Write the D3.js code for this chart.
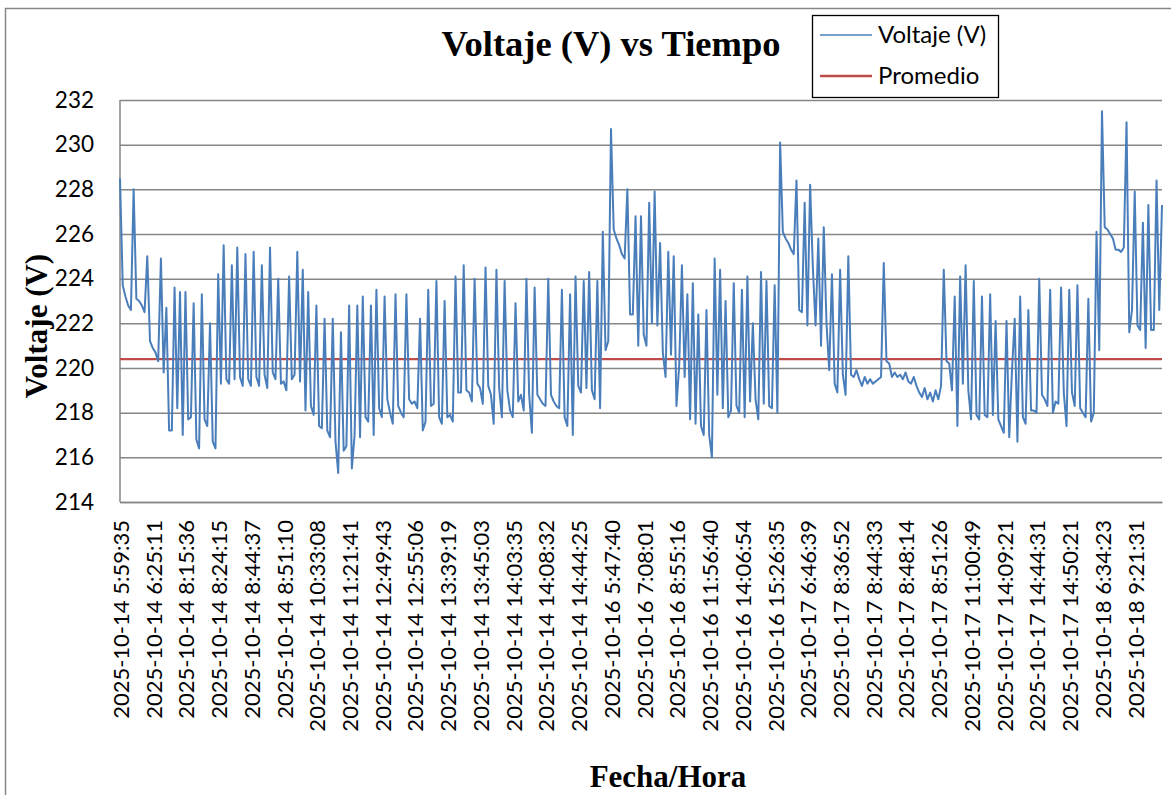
<!DOCTYPE html>
<html>
<head>
<meta charset="utf-8">
<script src="https://cdn.jsdelivr.net/npm/d3@7"></script>
<style>
  body { margin: 0; background: #fff; }
  svg { display: block; }
</style>
</head>
<body>
<div id="chart"></div>
<script>
// category labels shown on the x axis (one every 12 readings)
var fechas = [
  "2025-10-14 5:59:35", "2025-10-14 6:25:11", "2025-10-14 8:15:36", "2025-10-14 8:24:15",
  "2025-10-14 8:44:37", "2025-10-14 8:51:10", "2025-10-14 10:33:08", "2025-10-14 11:21:41",
  "2025-10-14 12:49:43", "2025-10-14 12:55:06", "2025-10-14 13:39:19", "2025-10-14 13:45:03",
  "2025-10-14 14:03:35", "2025-10-14 14:08:32", "2025-10-14 14:44:25", "2025-10-16 5:47:40",
  "2025-10-16 7:08:01", "2025-10-16 8:55:16", "2025-10-16 11:56:40", "2025-10-16 14:06:54",
  "2025-10-16 15:26:35", "2025-10-17 6:46:39", "2025-10-17 8:36:52", "2025-10-17 8:44:33",
  "2025-10-17 8:48:14", "2025-10-17 8:51:26", "2025-10-17 11:00:49", "2025-10-17 14:09:21",
  "2025-10-17 14:44:31", "2025-10-17 14:50:21", "2025-10-18 6:34:23", "2025-10-18 9:21:31"
]
var pasoEtiqueta = 12

// voltage readings (V)
var voltaje = [
  228.5,223.7,223.2,222.8,222.6,228.0,223.1,223.0,222.8,222.5,225.0,221.2,
  220.9,220.7,220.3,224.9,219.8,222.7,217.2,217.2,223.6,218.2,223.4,217.0,
  223.4,217.7,217.8,222.9,216.8,216.4,223.3,217.7,217.4,222.0,216.7,216.4,
  224.2,219.3,225.5,219.5,219.3,224.6,219.5,225.4,219.6,219.2,225.1,219.5,
  219.2,225.2,219.6,219.2,224.6,219.7,219.1,225.4,219.8,219.5,224.0,219.3,
  219.4,219.0,224.1,219.5,219.7,225.2,219.4,224.4,218.1,223.4,218.3,217.9,
  222.8,217.4,217.3,222.2,217.2,216.9,222.2,216.7,215.3,221.6,216.3,216.5,
  222.8,215.5,217.0,222.8,216.9,223.2,217.8,217.6,222.8,217.0,223.5,218.2,
  217.8,223.2,218.6,218.0,217.5,223.3,218.3,218.0,217.8,223.3,218.6,218.4,
  218.5,218.2,222.2,217.2,217.6,223.5,218.3,218.4,223.9,217.8,217.5,223.0,
  217.8,217.9,217.6,224.1,218.9,218.9,224.6,219.0,218.9,218.5,224.0,219.3,
  219.1,218.4,224.5,219.2,218.8,217.5,224.4,219.1,217.8,223.9,219.0,218.1,
  217.8,222.9,218.5,218.8,218.1,224.0,218.8,217.1,223.6,218.8,218.6,218.4,
  218.3,224.0,218.8,218.5,218.3,218.2,223.5,217.8,217.4,223.3,217.0,224.1,
  219.2,218.9,223.9,219.1,224.3,219.0,218.6,223.9,218.2,226.1,220.8,221.2,
  230.7,226.2,225.8,225.5,225.1,224.9,228.0,222.4,222.4,226.8,221.0,226.8,
  221.5,221.0,227.4,222.0,227.9,221.9,225.6,220.7,219.6,225.2,220.6,225.0,
  218.3,220.1,224.6,219.6,223.3,217.7,223.8,217.5,222.4,217.4,217.0,222.6,
  217.0,216.0,224.9,218.8,224.4,218.2,223.0,217.8,218.1,223.8,218.3,218.0,
  223.5,217.8,224.1,218.5,222.0,218.6,217.7,224.3,218.4,223.9,218.3,218.2,
  223.7,218.0,230.1,226.1,225.8,225.6,225.3,225.1,228.4,222.6,222.5,227.4,
  221.9,228.2,224.5,221.9,225.8,221.0,226.3,222.0,219.9,224.2,219.3,218.9,
  224.4,219.7,218.8,225.0,219.7,219.6,219.9,219.5,219.2,219.6,219.3,219.5,
  219.3,219.4,219.5,219.6,224.7,220.3,220.2,219.6,219.8,219.6,219.7,219.5,
  219.8,219.4,219.3,219.6,219.2,218.9,218.7,219.1,218.6,218.9,218.5,219.0,
  218.6,219.2,224.4,220.3,220.2,219.0,223.2,217.4,224.1,219.3,224.6,219.0,
  217.7,223.9,217.9,217.7,223.2,217.9,217.8,223.3,217.9,222.1,217.7,217.4,
  217.1,222.1,216.9,219.9,222.2,216.7,223.2,217.8,217.5,222.6,218.1,218.1,
  218.0,224.0,218.8,218.6,218.3,223.5,218.0,218.5,218.4,223.6,218.9,217.4,
  223.5,218.9,218.3,223.7,218.2,218.0,217.8,223.1,217.6,218.0,226.1,220.8,
  231.5,226.3,226.2,226.0,225.8,225.3,225.3,225.2,225.4,231.0,221.6,222.6,
  227.9,221.9,221.7,226.5,220.9,227.3,221.7,221.7,228.4,222.6,227.3
]

var promedio = 220.4
var yTicks = [214, 216, 218, 220, 222, 224, 226, 228, 230, 232]

var width = 1171, height = 795
var margin = { top: 100, left: 120, right: 9, bottom: 293 }
var plotW = width - margin.left - margin.right,
    plotH = height - margin.top - margin.bottom

var azul = "#4a7ebb", rojo = "#be4b48", gris = "#868686"
var sans = "Lato, 'Open Sans', sans-serif",
    serif = "'Liberation Serif', 'Times New Roman', serif"

var svg = d3.select("#chart")
    .append("svg")
    .attr("width", width)
    .attr("height", height)

// chart border
svg.append("rect")
    .attr("x", 5.5).attr("y", 8.5)
    .attr("width", 1200).attr("height", 800)
    .attr("fill", "#fff")
    .attr("stroke", gris)
    .attr("stroke-width", 1.5)

var g = svg.append("g")
    .attr("transform", "translate(" + margin.left + "," + margin.top + ")")

var x = d3.scaleLinear()
    .domain([0, voltaje.length - 1])
    .range([0, plotW])

var y = d3.scaleLinear()
    .domain([214, 232])
    .range([plotH, 0])

// gridlines + y labels
var yAxis = g.append("g")
    .call(d3.axisLeft(y).tickValues(yTicks).tickSize(-plotW).tickPadding(26).tickFormat(d3.format("d")))
yAxis.select(".domain").remove()
yAxis.selectAll(".tick line")
    .attr("stroke", gris)
    .attr("stroke-width", 1.5)
yAxis.selectAll(".tick text")
    .attr("fill", "#000")
    .style("font-family", sans)
    .style("font-size", "22.5px")

// left axis line
g.append("line")
    .attr("x1", 0).attr("x2", 0)
    .attr("y1", 0).attr("y2", plotH)
    .attr("stroke", gris)
    .attr("stroke-width", 1.5)

// x axis with rotated labels
var xAxis = g.append("g")
    .attr("transform", "translate(0," + plotH + ")")
    .call(d3.axisBottom(x)
        .tickValues(fechas.map((d, i) => i * pasoEtiqueta))
        .tickSize(0)
        .tickFormat((d) => fechas[d / pasoEtiqueta]))
xAxis.select(".domain")
    .attr("stroke", gris)
    .attr("stroke-width", 1.5)
xAxis.selectAll(".tick text")
    .attr("fill", "#000")
    .attr("text-anchor", "end")
    .attr("transform", "translate(0,18) rotate(-90)")
    .attr("x", 0)
    .attr("y", 0)
    .attr("dy", "0.38em")
    .style("font-family", sans)
    .style("font-size", "22px")

// average line
g.append("line")
    .attr("x1", x(0)).attr("x2", x(voltaje.length - 1))
    .attr("y1", y(promedio)).attr("y2", y(promedio))
    .attr("stroke", rojo)
    .attr("stroke-width", 2.3)

// voltage series
var linea = d3.line()
    .x((d, i) => x(i))
    .y((d) => y(d))

g.append("path")
    .datum(voltaje)
    .attr("fill", "none")
    .attr("stroke", azul)
    .attr("stroke-width", 2)
    .attr("stroke-linejoin", "round")
    .attr("d", linea)

// titles
svg.append("text")
    .attr("x", 611).attr("y", 56)
    .attr("text-anchor", "middle")
    .style("font-family", serif)
    .style("font-weight", "bold")
    .style("font-size", "36.5px")
    .text("Voltaje (V) vs Tiempo")

svg.append("text")
    .attr("transform", "translate(47,326) rotate(-90)")
    .attr("text-anchor", "middle")
    .style("font-family", serif)
    .style("font-weight", "bold")
    .style("font-size", "31px")
    .text("Voltaje (V)")

svg.append("text")
    .attr("x", 668).attr("y", 787)
    .attr("text-anchor", "middle")
    .style("font-family", serif)
    .style("font-weight", "bold")
    .style("font-size", "31px")
    .text("Fecha/Hora")

// legend
var leyenda = svg.append("g").attr("transform", "translate(812,15)")
leyenda.append("rect")
    .attr("x", 0.5).attr("y", 0.5)
    .attr("width", 186).attr("height", 82)
    .attr("fill", "#fff")
    .attr("stroke", "#000")
    .attr("stroke-width", 1.3)

var items = [
  { nombre: "Voltaje (V)", color: azul, ancho: 1.6 },
  { nombre: "Promedio", color: rojo, ancho: 2.3 }
]
var item = leyenda.selectAll(".item")
    .data(items)
    .enter().append("g")
    .attr("class", "item")
    .attr("transform", (d, i) => "translate(0," + (20 + i * 41) + ")")
item.append("line")
    .attr("x1", 8).attr("x2", 60)
    .attr("stroke", (d) => d.color)
    .attr("stroke-width", (d) => d.ancho)
item.append("text")
    .attr("x", 66)
    .attr("y", 8)
    .style("font-family", sans)
    .style("font-size", "24px")
    .text((d) => d.nombre)
</script>
</body>
</html>
